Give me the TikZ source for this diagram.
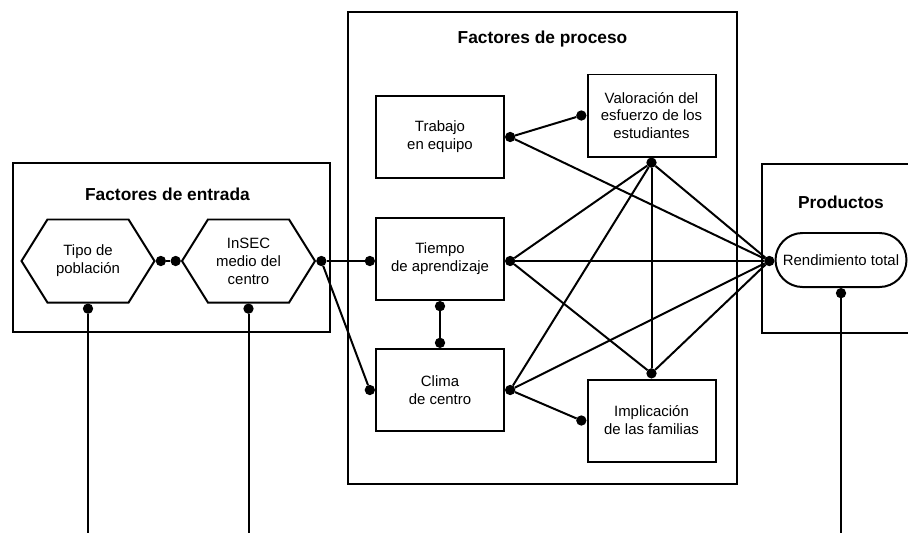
\documentclass[tikz,border=0pt]{standalone}
\usepackage{fontspec}
\setmainfont{Liberation Sans}
\usetikzlibrary{shapes.symbols,shapes.misc,positioning}

\begin{document}
\begin{tikzpicture}[x=0.03cm, y=-0.03cm, line width=1.7pt,
  font=\fontsize{12.75}{15.3}\selectfont,
  marco/.style={draw, rectangle},
  titulo/.style={font=\fontsize{14.8}{17}\selectfont\bfseries},
  caja/.style={draw, rectangle, align=center, minimum width=3.84cm, minimum height=2.46cm, inner sep=0pt},
  hexa/.style={draw, signal, signal to=west and east, signal pointer angle=116, align=center, minimum width=3.99cm, minimum height=2.49cm, inner sep=0pt},
  resultado/.style={draw, rounded rectangle, align=center, minimum width=3.93cm, minimum height=1.62cm, inner sep=0pt},
  punto/.style={circle, fill, inner sep=0pt, minimum size=0.31cm, outer sep=0pt}]
\path[use as bounding box](0,0)rectangle(908,532);
\clip(0,0)rectangle(908,532);
% marcos
\node[marco, minimum width=9.51cm, minimum height=5.07cm](entrada)at(171.5,247.5){};
\node[marco, minimum width=11.67cm, minimum height=14.16cm](proceso)at(542.5,248){};
\node[marco, minimum width=4.74cm, minimum height=5.07cm](productos)at(841,248.5){};
\node[titulo, yshift=-0.96cm, xshift=-0.12cm](tentrada)at(entrada.north){Factores de entrada};
\node[titulo, yshift=-0.84cm](tproceso)at(proceso.north){Factores de proceso};
\node[titulo, yshift=-1.17cm](tproductos)at(productos.north){Productos};
% factores
\node[hexa](tipo)at(88,261){Tipo de\\población};
\node[hexa](insec)at(248.5,261){InSEC\\medio del\\centro};
\node[caja](trabajo)at(440,137){Trabajo\\en equipo};
\node[caja](valoracion)at(651.5,115.5){Valoración del\\esfuerzo de los\\estudiantes};
\node[caja](tiempo)at(440,259){Tiempo\\de aprendizaje};
\node[caja, below=1.41cm of tiempo](clima){Clima\\de centro};
\node[caja](implicacion)at(651.5,420.5){Implicación\\de las familias};
\node[resultado](rendimiento)at(841,260){Rendimiento total};
% puntos
\node[punto, right=0pt of tipo](ptipoE){};
\node[punto, below=0pt of tipo](ptipoS){};
\node[punto, left=0pt of insec](pinsecW){};
\node[punto, right=0pt of insec](pinsecE){};
\node[punto, below=0pt of insec](pinsecS){};
\node[punto, right=0pt of trabajo](ptrabajoE){};
\node[punto, left=0pt of valoracion](pvaloracionW){};
\node[punto, below=0pt of valoracion](pvaloracionS){};
\node[punto, left=0pt of tiempo.west|-pinsecE](ptiempoW){};
\node[punto, right=0pt of tiempo.east|-pinsecE](ptiempoE){};
\node[punto, below=0pt of tiempo](ptiempoS){};
\node[punto, above=0pt of clima](pclimaN){};
\node[punto, left=0pt of clima](pclimaW){};
\node[punto, right=0pt of clima](pclimaE){};
\node[punto, left=0pt of implicacion](pimplicacionW){};
\node[punto, above=0pt of implicacion](pimplicacionN){};
\node[punto, left=0pt of rendimiento.west|-pinsecE](prendW){};
\node[punto, below=0pt of rendimiento](prendS){};
\coordinate(base)at(0,545);
% enlaces
\draw(ptipoE)--(pinsecW);
\draw(pinsecE)--(ptiempoW);
\draw(pinsecE)--(pclimaW);
\draw(ptrabajoE)--(pvaloracionW);
\draw(ptrabajoE)--(prendW);
\draw(ptiempoS)--(pclimaN);
\foreach \b in {ptiempoE,pclimaE,pimplicacionN,prendW}
  \draw(pvaloracionS)--(\b);
\draw(ptiempoE)--(prendW);
\draw(ptiempoE)--(pimplicacionN);
\draw(pclimaE)--(prendW);
\draw(pclimaE)--(pimplicacionW);
\draw(pimplicacionN)--(prendW);
\draw(ptipoS)--(ptipoS|-base);
\draw(pinsecS)--(pinsecS|-base);
\draw(prendS)--(prendS|-base);
\end{tikzpicture}
\end{document}
